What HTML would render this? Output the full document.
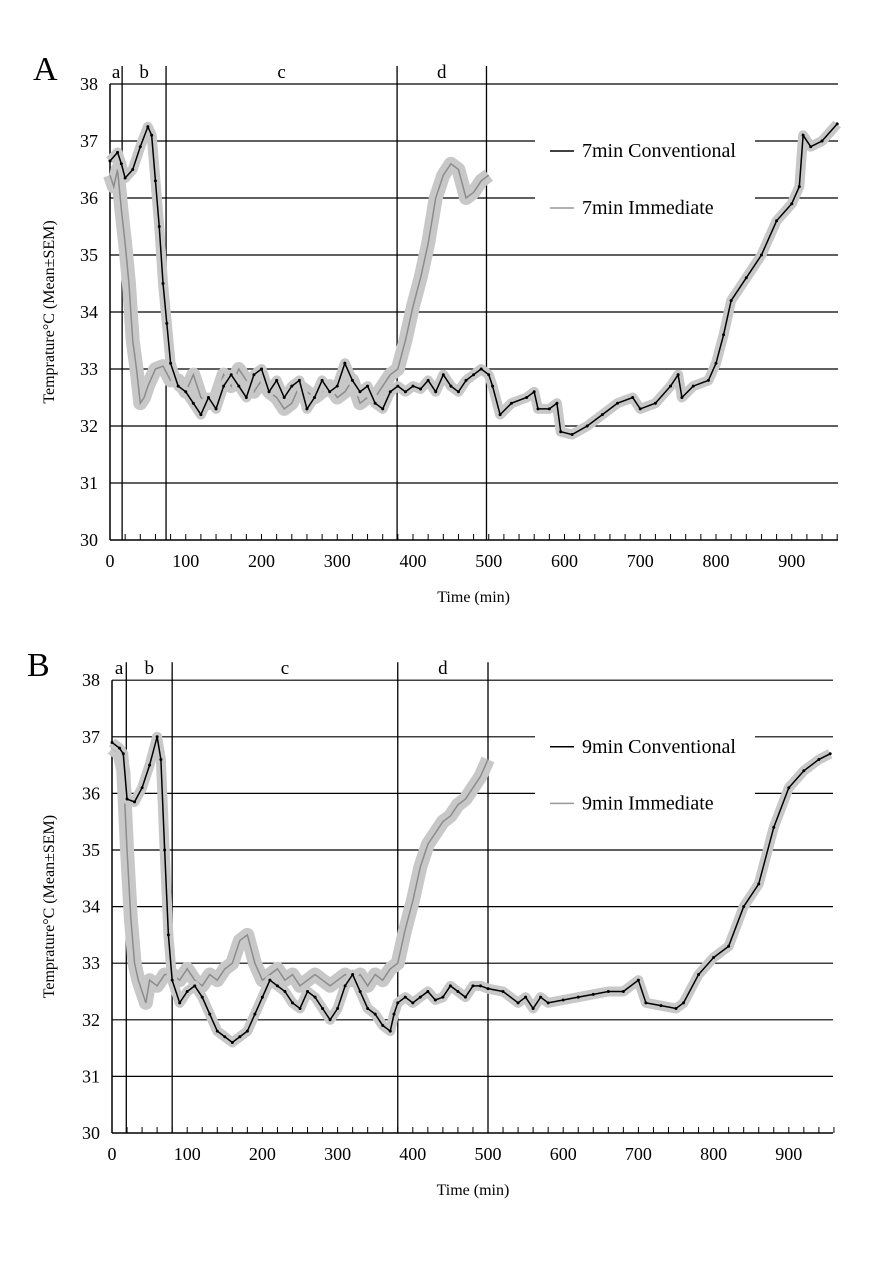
<!DOCTYPE html>
<html><head><meta charset="utf-8"><style>
html,body{margin:0;padding:0;background:#fff}
svg{display:block;font-family:"Liberation Serif",serif}
</style></head><body>
<svg id="chart" width="886" height="1274" viewBox="0 0 886 1274"></svg>
<script>
const NS="http://www.w3.org/2000/svg";
const svg=document.getElementById('chart');
// ---- data ----
const yTicks=[30,31,32,33,34,35,36,37,38];
const xTicks=[0,100,200,300,400,500,600,700,800,900];
const phaseLabels=['a','b','c','d'];
const phaseA=[16,74,379,497];
const phaseB=[19,80,380,500];
const convA_t=[0,10,15,20,30,40,50,55,60,65,70,75,80,90,100,110,120,130,140,150,160,170,180,190,200,210,220,230,240,250,260,270,280,290,300,310,320,330,340,350,360,370,380,390,400,410,420,430,440,450,460,470,480,490,500,505,515,530,550,560,565,580,590,595,610,630,650,670,690,700,720,740,750,755,770,790,800,810,820,840,860,880,900,910,915,925,940,960];
const convA_v=[36.65,36.8,36.6,36.35,36.5,36.9,37.25,37.1,36.3,35.5,34.5,33.8,33.1,32.7,32.6,32.4,32.2,32.5,32.3,32.7,32.9,32.7,32.5,32.9,33.0,32.6,32.8,32.5,32.7,32.8,32.3,32.5,32.8,32.6,32.7,33.1,32.8,32.6,32.7,32.4,32.3,32.6,32.7,32.6,32.7,32.65,32.8,32.6,32.9,32.7,32.6,32.8,32.9,33.0,32.9,32.7,32.2,32.4,32.5,32.6,32.3,32.3,32.4,31.9,31.85,32.0,32.2,32.4,32.5,32.3,32.4,32.7,32.9,32.5,32.7,32.8,33.1,33.6,34.2,34.6,35.0,35.6,35.9,36.2,37.1,36.9,37.0,37.3];
const immA_t=[0,5,10,15,20,25,30,35,40,45,50,60,70,80,90,100,110,120,130,140,150,160,170,180,190,200,210,220,230,240,250,260,270,280,290,300,310,320,330,340,350,360,370,380,390,400,410,420,430,440,450,460,470,480,490,500];
const immA_v=[36.4,36.2,36.5,35.8,35.2,34.5,33.5,33.0,32.4,32.5,32.7,33.0,33.05,32.8,32.8,32.6,32.9,32.5,32.4,32.5,32.9,32.7,33.0,32.8,32.6,32.8,32.6,32.5,32.3,32.4,32.7,32.6,32.5,32.6,32.7,32.5,32.6,32.8,32.4,32.5,32.5,32.7,32.9,33.0,33.5,34.1,34.6,35.2,36.0,36.4,36.6,36.5,36.0,36.1,36.3,36.4];
const convB_t=[0,10,15,20,30,40,50,60,65,70,75,80,90,100,110,120,130,140,150,160,170,180,190,200,210,220,230,240,250,260,270,280,290,300,310,320,330,340,350,360,370,375,380,390,400,410,420,430,440,450,460,470,480,490,500,520,540,550,560,570,580,600,620,640,660,680,700,710,730,750,760,780,800,820,840,860,880,900,920,940,955];
const convB_v=[36.9,36.8,36.7,35.9,35.85,36.1,36.5,37.0,36.6,35.0,33.5,32.7,32.3,32.5,32.6,32.4,32.1,31.8,31.7,31.6,31.7,31.8,32.1,32.4,32.7,32.6,32.5,32.3,32.2,32.5,32.4,32.2,32.0,32.2,32.6,32.8,32.5,32.2,32.1,31.9,31.8,32.1,32.3,32.4,32.3,32.4,32.5,32.35,32.4,32.6,32.5,32.4,32.6,32.6,32.55,32.5,32.3,32.4,32.2,32.4,32.3,32.35,32.4,32.45,32.5,32.5,32.7,32.3,32.25,32.2,32.3,32.8,33.1,33.3,34.0,34.4,35.4,36.1,36.4,36.6,36.7];
const immB_t=[0,10,15,20,25,30,35,40,45,50,60,70,80,90,100,110,120,130,140,150,160,170,180,190,200,210,220,230,240,250,260,270,280,290,300,310,320,330,340,350,360,370,380,390,400,410,420,430,440,450,460,470,480,490,500];
const immB_v=[36.8,36.7,36.4,35.0,33.8,33.0,32.7,32.5,32.3,32.7,32.6,32.8,32.8,32.7,32.9,32.7,32.6,32.8,32.7,32.9,33.0,33.4,33.5,33.0,32.7,32.8,32.9,32.7,32.8,32.6,32.7,32.8,32.7,32.6,32.7,32.8,32.7,32.8,32.6,32.8,32.7,32.9,33.0,33.6,34.1,34.7,35.1,35.3,35.5,35.6,35.8,35.9,36.1,36.3,36.6];

function el(tag,attrs,parent){const e=document.createElementNS(NS,tag);for(const k in attrs)e.setAttribute(k,attrs[k]);(parent||svg).appendChild(e);return e;}

function panel(o){
  const g=el('g',{});
  
  
  const X=t=>o.x0+t*o.kx, Y=v=>o.y30-(v-30)*o.ky;
  const L=el('text',{x:o.lx,y:o.ly,'font-size':34},g);L.textContent=o.id.toUpperCase();
  
  yTicks.forEach(v=>{
    if(v>30){const ln=el('line',{x1:X(0),x2:o.xend,y1:Y(v),y2:Y(v),stroke:'#000','stroke-width':1.2},g);
      }
    const t=el('text',{x:X(0)-12,y:Y(v)+6,'font-size':18,'text-anchor':'end'},g);t.textContent=v;
    
  });
  const ax=el('line',{x1:X(0),x2:o.xend,y1:Y(30),y2:Y(30),stroke:'#000','stroke-width':1.5},g);
  
  const ay=el('line',{x1:X(0),x2:X(0),y1:Y(38),y2:Y(30),stroke:'#000','stroke-width':1.5},g);
  
  for(let t=20;t<=960;t+=20){const tk=el('line',{x1:X(t),x2:X(t),y1:Y(30),y2:Y(30)-6,stroke:'#000','stroke-width':1},g);
    }
  xTicks.forEach(t=>{const tx=el('text',{x:X(t),y:Y(30)+27,'font-size':18,'text-anchor':'middle'},g);tx.textContent=t;
    });
  const ph=o.phase;
  ph.forEach(t=>{const pl=el('line',{x1:X(t),x2:X(t),y1:Y(38)-18,y2:Y(30),stroke:'#000','stroke-width':1.3},g);
    });
  const bounds=[0].concat(ph);
  phaseLabels.forEach((s,i)=>{const c=(X(bounds[i])+X(bounds[i+1]))/2;
    const pt=el('text',{x:c,y:Y(38)-6,'font-size':19,'text-anchor':'middle'},g);pt.textContent=s;
    });
  const lb=el('rect',{x:535,y:Y(37)-18,width:220,height:Y(36)-Y(37)+36,fill:'#fff'},g);
  
  function series(ts,vs,color,bw,name,dots){
    const pts=ts.map((t,i)=>X(t)+','+Y(vs[i])).join(' ');
    const band=el('polyline',{points:pts,fill:'none',stroke:'#c8c8c8','stroke-width':bw,'stroke-linejoin':'round','stroke-linecap':'butt'},g);
    
    const line=el('polyline',{points:pts,fill:'none',stroke:color,'stroke-width':1.5},g);
    
    if(dots){ts.forEach((t,i)=>{const d=el('circle',{cx:X(t),cy:Y(vs[i]),r:1.5,fill:color},g);
      });}
  }
  series(o.it,o.iv,'#8c8c8c',14,'immediate',false);
  series(o.ct,o.cv,'#000',10,'conventional',true);
  [[o.leg1,'#000',Y(37)+10],[o.leg2,'#999',Y(36)+10]].forEach(([txt,c,y])=>{
    const ll=el('line',{x1:550,x2:574,y1:y,y2:y,stroke:c,'stroke-width':1.5},g);
    
    const lt=el('text',{x:582,y:y+6,'font-size':20},g);lt.textContent=txt;
    
  });
  const xt=el('text',{x:X(480),y:Y(30)+62,'font-size':16,'text-anchor':'middle'},g);xt.textContent='Time (min)';
  
  const cy=(Y(38)+Y(30))/2;
  const yt=el('text',{x:54,y:cy,'font-size':16,'text-anchor':'middle',transform:`rotate(-90 54 ${cy})`},g);yt.textContent='Temprature°C (Mean±SEM)';
  
}
panel({id:'a',x0:110,kx:0.7575,xend:838,y30:540,ky:57,lx:33,ly:80,phase:phaseA,ct:convA_t,cv:convA_v,it:immA_t,iv:immA_v,leg1:'7min Conventional',leg2:'7min Immediate'});
panel({id:'b',x0:112,kx:0.752,xend:833,y30:1133,ky:56.6,lx:27,ly:676,phase:phaseB,ct:convB_t,cv:convB_v,it:immB_t,iv:immB_v,leg1:'9min Conventional',leg2:'9min Immediate'});
</script>
</body></html>
